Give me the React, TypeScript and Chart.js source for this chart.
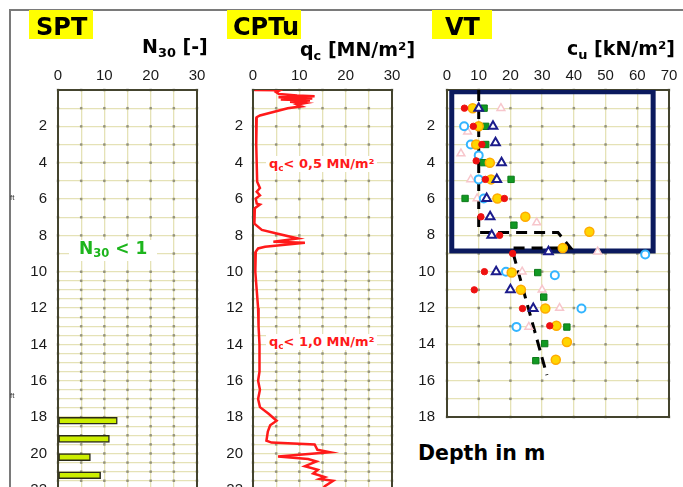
import React, { useEffect, useRef } from "react";
import { Chart, registerables } from "chart.js";
Chart.register(...registerables);

// ---------- SPT ----------
const sptDepth = [18.2, 19.2, 20.2, 21.2];
const sptN30 = [12.8, 11.1, 7.0, 9.2];

// ---------- CPTu ----------
const cptDepth = [0, 0.02, 0.12, 0.22, 0.3, 0.35, 0.4, 0.47, 0.52, 0.58, 0.65, 0.72, 0.8, 0.9, 1.0, 1.4, 1.5, 3.0, 5.05, 5.4, 5.6, 5.8, 5.97, 6.25, 6.3, 6.5, 7.35, 7.7, 7.9, 8.17, 8.35, 8.4, 8.63, 8.72, 8.9, 10, 11, 12, 13, 14, 15, 15.5, 16, 16.5, 17, 17.45, 17.8, 18.2, 18.45, 18.8, 19.3, 19.4, 19.5, 19.8, 19.93, 20.17, 20.3, 20.44, 20.7, 20.9, 21.1, 21.3, 21.4, 21.5, 21.8, 22.2, 22.8];
const cptQc = [0.3, 5.8, 5.0, 5.6, 9.5, 13.3, 5.5, 12.8, 6.0, 12.3, 8.0, 11.2, 9.5, 10.5, 7.5, 1.5, 0.8, 0.7, 0.9, 1.5, 0.8, 1.5, 0.6, 0.8, 1.5, 0.4, 0.3, 1.9, 5.1, 9.7, 4.4, 11.2, 2.6, 1.1, 0.6, 0.5, 0.8, 1.1, 1.2, 1.4, 1.5, 1.3, 1.1, 1.5, 1.1, 1.5, 3.3, 5.1, 3.7, 3.2, 2.9, 4.0, 13.3, 13.9, 16.6, 5.4, 11.9, 13.7, 11.2, 14.0, 13.0, 15.5, 14.4, 17.3, 15.5, 14.4, 16.0];

// ---------- VT (cu, depth) ----------
const vtRedCu = [5.5, 8.3, 11, 9.2, 12.1, 18.1, 10.7, 16.6, 20.7, 11.8, 8.6, 23.8, 32.4];
const vtRedDepth = [1, 2, 3, 3.9, 4.92, 5.97, 6.98, 8.0, 9.0, 10, 11, 12.03, 12.98];
const vtYellowCu = [8.1, 10, 9.2, 13.5, 13.9, 15.9, 24.7, 44.9, 36.5, 20.4, 23.3, 31, 34.5, 37.8, 34.3];
const vtYellowDepth = [1, 2, 3, 4.0, 4.92, 5.97, 6.98, 7.8, 8.7, 10.05, 11, 12.03, 12.98, 13.87, 14.85];
const vtGreenCu = [11.7, 12.2, 12.2, 11.5, 20.2, 5.7, 21.1, 28.6, 30.5, 37.8, 30.8, 28];
const vtGreenDepth = [1, 2, 3, 4, 4.92, 5.97, 7.44, 10.05, 11.4, 13.05, 13.96, 14.9];
const vtBlueTriCu = [10, 14.5, 15.3, 17.2, 15.7, 12.5, 13.6, 14.1, 32, 15.5, 20, 27.2];
const vtBlueTriDepth = [1, 2, 2.9, 4, 4.92, 5.97, 6.98, 8, 8.9, 10, 11, 12.03];
const vtCyanCu = [5.4, 7.5, 10, 10, 11.6, 62.5, 18.6, 34, 42.4, 21.9];
const vtCyanDepth = [2, 3, 3.6, 4.92, 5.97, 9.05, 10, 10.2, 12.03, 13.04];
const vtPinkCu = [17, 6.5, 4.4, 7.5, 9.5, 28.3, 47.5, 23.7, 30, 35.5, 25.8];
const vtPinkDepth = [1, 2.3, 3.5, 4.92, 5.97, 7.3, 8.9, 10, 11, 12, 13.04];
const vtDashCu = [10, 10, 35, 39, 20.4, 31.5];
const vtDashDepth = [0, 7.85, 7.85, 8.7, 8.7, 15.7];
const vtBoxCu = [1.5, 65, 65, 1.5, 1.5];
const vtBoxDepth = [0.1, 0.1, 8.86, 8.86, 0.1];

// ---------- ticks ----------
const sptCptXTicks = [0, 5, 10, 15, 20, 25, 30];
const vtXTicks = [0, 10, 20, 30, 40, 50, 60, 70];
const vtDepthTicks = [0, 1, 2, 3, 4, 5, 6, 7, 8, 9, 10, 11, 12, 13, 14, 15, 16, 17, 18];
const deepDepthTicks = [0, 1, 2, 3, 4, 5, 6, 7, 8, 9, 10, 10.5, 11, 11.5, 12, 12.5, 13, 13.5, 14, 14.5, 15, 15.5, 16, 16.5, 17, 17.5, 18, 18.5, 19, 19.5, 20, 20.5, 21, 21.5, 22, 22.5, 23];

const zip = (xs: number[], ys: number[]) => xs.map((x, i) => ({ x, y: ys[i] }));

const TICK_FONT = { family: '"Liberation Sans", Arial, sans-serif', size: 15 };
const GRID_COLOR = "#e5e2b6";
const BOLD = '"DejaVu Sans", Verdana, sans-serif';

const gridDots = {
  id: "gridDots",
  beforeDatasetsDraw(chart: any) {
    const { ctx, chartArea, scales } = chart;
    const x = scales.x, y = scales.y;
    ctx.save();
    ctx.fillStyle = "rgba(95,95,80,0.6)";
    for (const tx of x.ticks) {
      const px = x.getPixelForValue(tx.value);
      for (const ty of y.ticks) {
        const py = y.getPixelForValue(ty.value);
        if (py < chartArea.top - 1 || py > chartArea.bottom + 1) continue;
        ctx.fillRect(px - 1.25, py - 1.25, 2.5, 2.5);
      }
    }
    ctx.strokeStyle = "#44442e";
    ctx.lineWidth = 2;
    ctx.strokeRect(chartArea.left, chartArea.top, chartArea.right - chartArea.left, chartArea.bottom - chartArea.top);
    ctx.restore();
  },
};

type PanelSpec = {
  type: any;
  indexAxis?: "x" | "y";
  xMax: number;
  xTicks: number[];
  xLabelEvery: number;
  yMax: number;
  yTicks: number[];
  yw: number;
  xh: number;
  yPad: number;
  rightPad: number;
  bottomPad: number;
  datasets: any[];
};

function buildConfig(p: PanelSpec): any {
  return {
    type: p.type,
    data: { datasets: p.datasets },
    options: {
      animation: false,
      responsive: false,
      devicePixelRatio: 1,
      indexAxis: p.indexAxis || "x",
      layout: { padding: { left: 0, top: 0, right: p.rightPad, bottom: p.bottomPad } },
      plugins: { legend: { display: false }, tooltip: { enabled: false } },
      scales: {
        x: {
          type: "linear",
          position: "top",
          min: 0,
          max: p.xMax,
          offset: false,
          afterBuildTicks: (s: any) => {
            s.ticks = p.xTicks.map((v) => ({ value: v }));
          },
          afterFit: (s: any) => {
            s.height = p.xh;
            s.paddingLeft = 0;
            s.paddingRight = 0;
          },
          ticks: {
            autoSkip: false,
            maxRotation: 0,
            padding: 5,
            font: TICK_FONT,
            color: "#1a1a1a",
            callback: (v: any) => (Number(v) % p.xLabelEvery === 0 ? String(v) : ""),
          },
          grid: { color: GRID_COLOR, lineWidth: 1.3, drawTicks: false, offset: false },
          border: { display: false },
        },
        y: {
          type: "linear",
          reverse: true,
          min: 0,
          max: p.yMax,
          offset: false,
          afterBuildTicks: (s: any) => {
            s.ticks = p.yTicks.map((v) => ({ value: v }));
          },
          afterFit: (s: any) => {
            s.width = p.yw;
            s.paddingTop = 0;
            s.paddingBottom = 0;
          },
          ticks: {
            autoSkip: false,
            padding: p.yPad,
            font: TICK_FONT,
            color: "#1a1a1a",
            callback: (v: any) => {
              const n = Number(v);
              return n > 0 && Number.isInteger(n) && n % 2 === 0 ? String(n) : "";
            },
          },
          grid: { color: GRID_COLOR, lineWidth: 1.3, drawTicks: false, offset: false },
          border: { display: false },
        },
      },
    },
    plugins: [gridDots],
  };
}

function Panel(props: { left: number; top: number; width: number; height: number; spec: PanelSpec }) {
  const ref = useRef<HTMLCanvasElement>(null);
  useEffect(() => {
    const chart = new Chart(ref.current as HTMLCanvasElement, buildConfig(props.spec));
    return () => chart.destroy();
  }, []);
  return (
    <canvas
      ref={ref}
      width={props.width}
      height={props.height}
      style={{ position: "absolute", left: props.left, top: props.top, width: props.width, height: props.height }}
    />
  );
}

const sptSpec: PanelSpec = {
  type: "bar",
  indexAxis: "y",
  xMax: 30,
  xTicks: sptCptXTicks,
  xLabelEvery: 10,
  yMax: 23,
  yTicks: deepDepthTicks,
  yw: 43,
  xh: 30,
  yPad: 11,
  rightPad: 12,
  bottomPad: 0,
  datasets: [
    {
      data: zip(sptN30, sptDepth),
      backgroundColor: "#ccee00",
      borderColor: "#2a2a1a",
      borderWidth: 1.5,
      borderSkipped: false,
      barThickness: 7,
    },
  ],
};

const cptSpec: PanelSpec = {
  type: "scatter",
  xMax: 30,
  xTicks: sptCptXTicks,
  xLabelEvery: 10,
  yMax: 23,
  yTicks: deepDepthTicks,
  yw: 38,
  xh: 30,
  yPad: 10,
  rightPad: 12,
  bottomPad: 0,
  datasets: [
    {
      data: zip(cptQc, cptDepth),
      showLine: true,
      borderColor: "#ff1a1a",
      borderWidth: 2.5,
      pointRadius: 0,
      tension: 0,
    },
  ],
};

const vtSpec: PanelSpec = {
  type: "scatter",
  xMax: 70,
  xTicks: vtXTicks,
  xLabelEvery: 10,
  yMax: 18,
  yTicks: vtDepthTicks,
  yw: 42,
  xh: 30,
  yPad: 12,
  rightPad: 12,
  bottomPad: 10,
  datasets: [
    { data: zip(vtRedCu, vtRedDepth), pointStyle: "circle", pointRadius: 3.2, backgroundColor: "#ee1111", borderColor: "#ee1111", borderWidth: 1 },
    { data: zip(vtBlueTriCu, vtBlueTriDepth), pointStyle: "triangle", pointRadius: 5, backgroundColor: "#ffffff", borderColor: "#1c1c8c", borderWidth: 2 },
    { data: zip(vtYellowCu, vtYellowDepth), pointStyle: "circle", pointRadius: 4.5, backgroundColor: "#ffd500", borderColor: "#ffaa00", borderWidth: 1.5 },
    { data: zip(vtGreenCu, vtGreenDepth), pointStyle: "rect", pointRadius: 4.5, backgroundColor: "#119922", borderColor: "#0d7a1a", borderWidth: 1 },
    { data: zip(vtCyanCu, vtCyanDepth), pointStyle: "circle", pointRadius: 4, backgroundColor: "#ffffff", borderColor: "#33b5ff", borderWidth: 2 },
    { data: zip(vtPinkCu, vtPinkDepth), pointStyle: "triangle", pointRadius: 4.5, backgroundColor: "#ffffff", borderColor: "#f7c6cc", borderWidth: 1.5 },
    {
      data: zip(vtDashCu, vtDashDepth),
      showLine: true,
      borderColor: "#000000",
      borderWidth: 3,
      borderDash: [11, 7],
      pointRadius: 0,
      tension: 0,
    },
    {
      data: zip(vtBoxCu, vtBoxDepth),
      showLine: true,
      borderColor: "#0b1a5e",
      borderWidth: 5,
      borderJoinStyle: "miter",
      borderCapStyle: "square",
      pointRadius: 0,
      tension: 0,
    },
  ],
};

const abs = (left: number, top: number, extra: any = {}) => ({ position: "absolute" as const, left, top, lineHeight: 1, whiteSpace: "nowrap" as const, ...extra });
const subStyle = { fontSize: "0.68em", position: "relative" as const, top: "0.3em" };

export default function App() {
  return (
    <div style={{ position: "fixed", left: 0, top: 0, width: 683, height: 487, overflow: "hidden", background: "#ffffff" }}>
      <div style={{ position: "absolute", left: 9, top: 9, width: 700, height: 500, borderTop: "2px solid #7a7a7a", borderLeft: "2px solid #7a7a7a" }} />
      <Panel left={15} top={60} width={194} height={448} spec={sptSpec} />
      <Panel left={215} top={60} width={189} height={448} spec={cptSpec} />
      <Panel left={405} top={60} width={276} height={367} spec={vtSpec} />

      {/* panel titles */}
      <div style={abs(29, 10, { width: 64, height: 29, background: "#ffff00" })} />
      <div style={abs(36, 14.7, { fontFamily: BOLD, fontWeight: 700, fontSize: 24, color: "#000" })}>SPT</div>
      <div style={abs(227, 10, { width: 74, height: 29, background: "#ffff00" })} />
      <div style={abs(233, 14.7, { fontFamily: BOLD, fontWeight: 700, fontSize: 24, color: "#000" })}>CPTu</div>
      <div style={abs(432, 10, { width: 60, height: 29, background: "#ffff00" })} />
      <div style={abs(445, 14.7, { fontFamily: BOLD, fontWeight: 700, fontSize: 24, color: "#000" })}>VT</div>

      {/* axis titles */}
      <div style={abs(142, 37, { fontFamily: BOLD, fontWeight: 700, fontSize: 19, color: "#000" })}>
        N<span style={subStyle}>30</span> [-]
      </div>
      <div style={abs(300, 40, { fontFamily: BOLD, fontWeight: 700, fontSize: 19, color: "#000" })}>
        q<span style={subStyle}>c</span> [MN/m²]
      </div>
      <div style={abs(567, 39, { fontFamily: BOLD, fontWeight: 700, fontSize: 19, color: "#000" })}>
        c<span style={subStyle}>u</span> [kN/m²]
      </div>

      {/* annotations */}
      <div style={abs(69, 240, { fontFamily: BOLD, fontWeight: 700, fontSize: 17, color: "#1db51d", background: "#ffffff", padding: "0 10px 4px 10px" })}>
        N<span style={subStyle}>30</span> &lt; 1
      </div>
      <div style={abs(266, 156, { fontFamily: BOLD, fontWeight: 700, fontSize: 13, color: "#ff1a1a", background: "#ffffff", padding: "1px 3px 2px 3px" })}>
        q<span style={subStyle}>c</span>&lt; 0,5 MN/m²
      </div>
      <div style={abs(266, 334, { fontFamily: BOLD, fontWeight: 700, fontSize: 13, color: "#ff1a1a", background: "#ffffff", padding: "1px 3px 2px 3px" })}>
        q<span style={subStyle}>c</span>&lt; 1,0 MN/m²
      </div>
      <div style={abs(418, 443, { fontFamily: BOLD, fontWeight: 700, fontSize: 20.5, color: "#000" })}>Depth in m</div>

      <div style={abs(10, 194, { fontFamily: '"Liberation Sans", Arial, sans-serif', fontSize: 8, color: "#333" })}>ft</div>
      <div style={abs(10, 392, { fontFamily: '"Liberation Sans", Arial, sans-serif', fontSize: 8, color: "#333" })}>ft</div>
    </div>
  );
}
